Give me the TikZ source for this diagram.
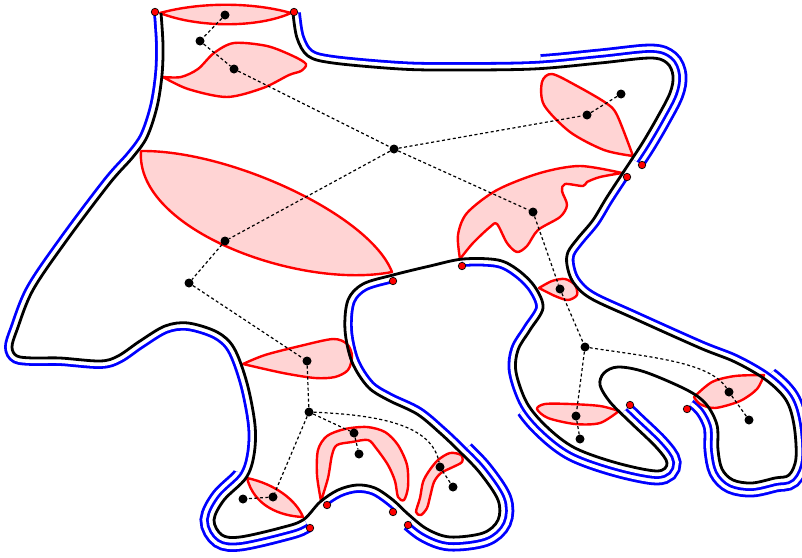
\documentclass[tikz,border=0pt]{standalone}
\begin{document}
\begin{tikzpicture}[
    x=1pt, y=-1pt,
    wall/.style={line width=2.8pt},
    band1/.style={line width=15.8pt},
    band2/.style={line width=28.8pt},
    gap1/.style={line width=10.2pt},
    gap2/.style={line width=23.2pt},
    blob/.style={draw=red, fill=red!17, line width=2.4pt, line join=round},
    vtx/.style={circle, fill=black, inner sep=0pt, minimum size=9pt},
    endpt/.style={circle, draw=black, fill=red, line width=0.7pt, inner sep=0pt, minimum size=7.5pt},
    link/.style={line width=1.2pt, dash pattern=on 3pt off 2.5pt}
  ]
  \newcommand\bordercurve{plot[smooth, tension=0.55] coordinates {
    (161,13) (163,45) (162,75) (157,107) (147,137) (133,157) (110,183) (67,240)
    (33,290) (17,330) (12,347) (17,356) (33,358) (60,358) (100,361) (118,356)
    (140,341) (165,326) (188,323) (217,332) (234,348) (247,383) (255,425) (254,455)
    (246,478) (224,500) (214,520) (222,535) (240,537) (280,528) (303,520) (320,502)
    (338,490) (357,485) (375,488) (393,500) (408,514) (427,529) (450,537) (483,533)
    (498,520) (498,500) (480,473) (460,452) (440,433) (417,414) (388,400) (368,387)
    (352,362) (345,330) (348,300) (363,284) (393,275) (430,266) (463,259) (498,260)
    (518,270) (535,287) (543,308) (530,330) (518,350) (516,372) (527,403) (547,427)
    (575,448) (617,463) (657,471) (667,463) (656,447) (630,422) (610,402) (600,385)
    (604,373) (618,367) (645,372) (687,390) (706,404) (717,425) (718,450) (722,469)
    (733,480) (752,483) (775,478) (789,475) (796,458) (794,425) (786,400) (766,380)
    (735,362) (700,348) (633,318) (590,298) (573,282) (567,265) (568,252) (578,238)
    (593,220) (607,197) (630,162) (643,142) (657,118) (670,93) (673,76) (667,63)
    (650,58) (600,63) (533,69) (450,70) (400,69) (333,63) (308,56) (297,38) (293,13)}}

  \useasboundingbox (0,0) rectangle (802,557);

  \begin{scope}[even odd rule]
    \clip (-30,-30) rectangle (840,600) \bordercurve -- cycle;
    \foreach \zone in {
      {(252,477) -- (219,465) -- (170,500) -- (180,570) -- (330,570) -- (318,541) -- (301,515)},
      {(416,516) -- (392,542) -- (420,570) -- (530,570) -- (530,500) -- (500,430) -- (482,433) -- (457,458)},
      {(533,403) -- (506,424) -- (520,480) -- (570,510) -- (690,510) -- (700,455) -- (642,392) -- (618,418) -- (565,420)},
      {(699,392) -- (679,421) -- (690,510) -- (830,510) -- (830,380) -- (786,358) -- (761,383) -- (730,390)},
      {(542,73) -- (539,38) -- (720,30) -- (720,180) -- (658,175) -- (628,156) -- (600,110)}}{
      \begin{scope}
        \clip \zone -- cycle;
        \draw[blue, band2] \bordercurve;
        \draw[white, gap2] \bordercurve;
      \end{scope}
    }
    \begin{scope}
      \clip (-30,-30) rectangle (840,600)
        (301,515) -- (318,541) -- (339,524) -- (320,495) -- cycle
        (401,503) -- (377,529) -- (392,542) -- (416,516) -- cycle
        (392,270) -- (400,304) -- (468,289) -- (461,255) -- cycle
        (618,418) -- (642,392) -- (679,421) -- (699,392) -- (680,378) -- (620,360) -- (592,380) -- cycle
        (618,172) -- (648,190) -- (658,175) -- (628,156) -- cycle;
      \draw[blue, band1] \bordercurve;
      \draw[white, gap1] \bordercurve;
    \end{scope}
  \end{scope}

  \draw[blob] (160,13) .. controls (200,2) and (252,2) .. (291,13)
    .. controls (258,28) and (198,28) .. (160,13) -- cycle;
  \draw[blob] plot[smooth] coordinates {(163,77) (181,77) (198,69) (214,53) (234,43)
    (267,46) (293,56) (306,64) (301,71) (289,75) (263,88) (227,97) (188,89) (163,77)} -- cycle;
  \draw[blob] (141,151) .. controls (230,150) and (370,215) .. (392,272)
    .. controls (300,290) and (135,230) .. (141,151) -- cycle;
  \draw[blob] plot[smooth] coordinates {(633,156) (617,115) (606,103) (577,86) (552,74)
    (542,82) (544,105) (570,132) (604,150) (633,156)} -- cycle;
  \draw[blob] plot[smooth] coordinates {(460,259) (458,235) (467,213) (497,190) (540,173)
    (580,166) (622,173)} -- plot[smooth] coordinates {(622,173) (600,177) (587,182)
    (583,186) (565,184) (562,191) (567,205) (560,217) (538,230) (527,246) (517,252)
    (507,243) (497,224) (490,227) (473,243) (460,259)} -- cycle;
  \draw[blob] plot[smooth] coordinates {(539,288) (552,281) (565,279) (575,285) (577,295)
    (568,300) (555,296) (539,288)} -- cycle;
  \draw[blob] plot[smooth] coordinates {(243,364) (265,355) (300,346) (333,339) (347,344)
    (352,356) (348,370) (335,377) (315,378) (283,373) (243,364)} -- cycle;
  \draw[blob] (247,478) .. controls (275,484) and (296,500) .. (303,517)
    .. controls (280,516) and (254,506) .. (247,478) -- cycle;
  \draw[blob] plot[smooth] coordinates {(321,501) (317,475) (318,450) (327,436) (345,429)
    (367,427) (385,432) (398,445) (407,465) (408,487) (404,500) (398,497) (395,481)
    (388,465) (376,448) (368,440) (352,442) (337,445) (332,455) (328,478) (321,501)} -- cycle;
  \draw[blob] plot[smooth cycle] coordinates {(416,512) (420,498) (423,482) (429,471)
    (438,460) (450,453) (461,455) (462,462) (453,467) (441,473) (434,482) (430,497)
    (427,508) (421,515)};
  \draw[blob] plot[smooth] coordinates {(619,411) (600,406) (570,404) (545,404) (537,409)
    (548,418) (575,424) (600,423) (619,411)} -- cycle;
  \draw[blob] plot[smooth] coordinates {(694,397) (712,382) (735,376) (764,375)}
    -- plot[smooth] coordinates {(764,375) (757,389) (740,401) (715,408) (700,404) (694,397)} -- cycle;

  \draw[wall] \bordercurve;

  \node[vtx] (a) at (225,15) {};
  \node[vtx] (b) at (200,41) {};
  \node[vtx] (c) at (234,69) {};
  \node[vtx] (r) at (394,149) {};
  \node[vtx] (d) at (587,115) {};
  \node[vtx] (e) at (621,94) {};
  \node[vtx] (f) at (533,212) {};
  \node[vtx] (g) at (560,289) {};
  \node[vtx] (h) at (585,347) {};
  \node[vtx] (i) at (576,416) {};
  \node[vtx] (j) at (580,439) {};
  \node[vtx] (k) at (729,392) {};
  \node[vtx] (l) at (749,420) {};
  \node[vtx] (m) at (225,241) {};
  \node[vtx] (n) at (189,283) {};
  \node[vtx] (o) at (307,361) {};
  \node[vtx] (p) at (309,412) {};
  \node[vtx] (q) at (273,497) {};
  \node[vtx] (s) at (243,499) {};
  \node[vtx] (t) at (354,433) {};
  \node[vtx] (u) at (359,454) {};
  \node[vtx] (v) at (440,467) {};
  \node[vtx] (w) at (453,487) {};

  \foreach \from/\to in {a/b, b/c, c/r, r/d, d/e, r/f, f/g, g/h, h/i, i/j, k/l,
                         r/m, m/n, n/o, o/p, p/q, q/s, p/t, t/u, v/w}
    \draw[link] (\from) -- (\to);
  \draw[link] (h) .. controls (650,357) and (710,362) .. (k);
  \draw[link] (p) .. controls (380,415) and (432,425) .. (v);

  \node[endpt] (rd1) at (155,12) {};
  \node[endpt] (rd2) at (294,12) {};
  \node[endpt] (rd3) at (310,528) {};
  \node[endpt] (rd4) at (327,505) {};
  \node[endpt] (rd5) at (393,512) {};
  \node[endpt] (rd6) at (408,525) {};
  \node[endpt] (rd7) at (393,281) {};
  \node[endpt] (rd8) at (462,266) {};
  \node[endpt] (rd9) at (630,405) {};
  \node[endpt] (rd10) at (687,409) {};
  \node[endpt] (rd11) at (627,177) {};
  \node[endpt] (rd12) at (642,165) {};
\end{tikzpicture}
\end{document}
